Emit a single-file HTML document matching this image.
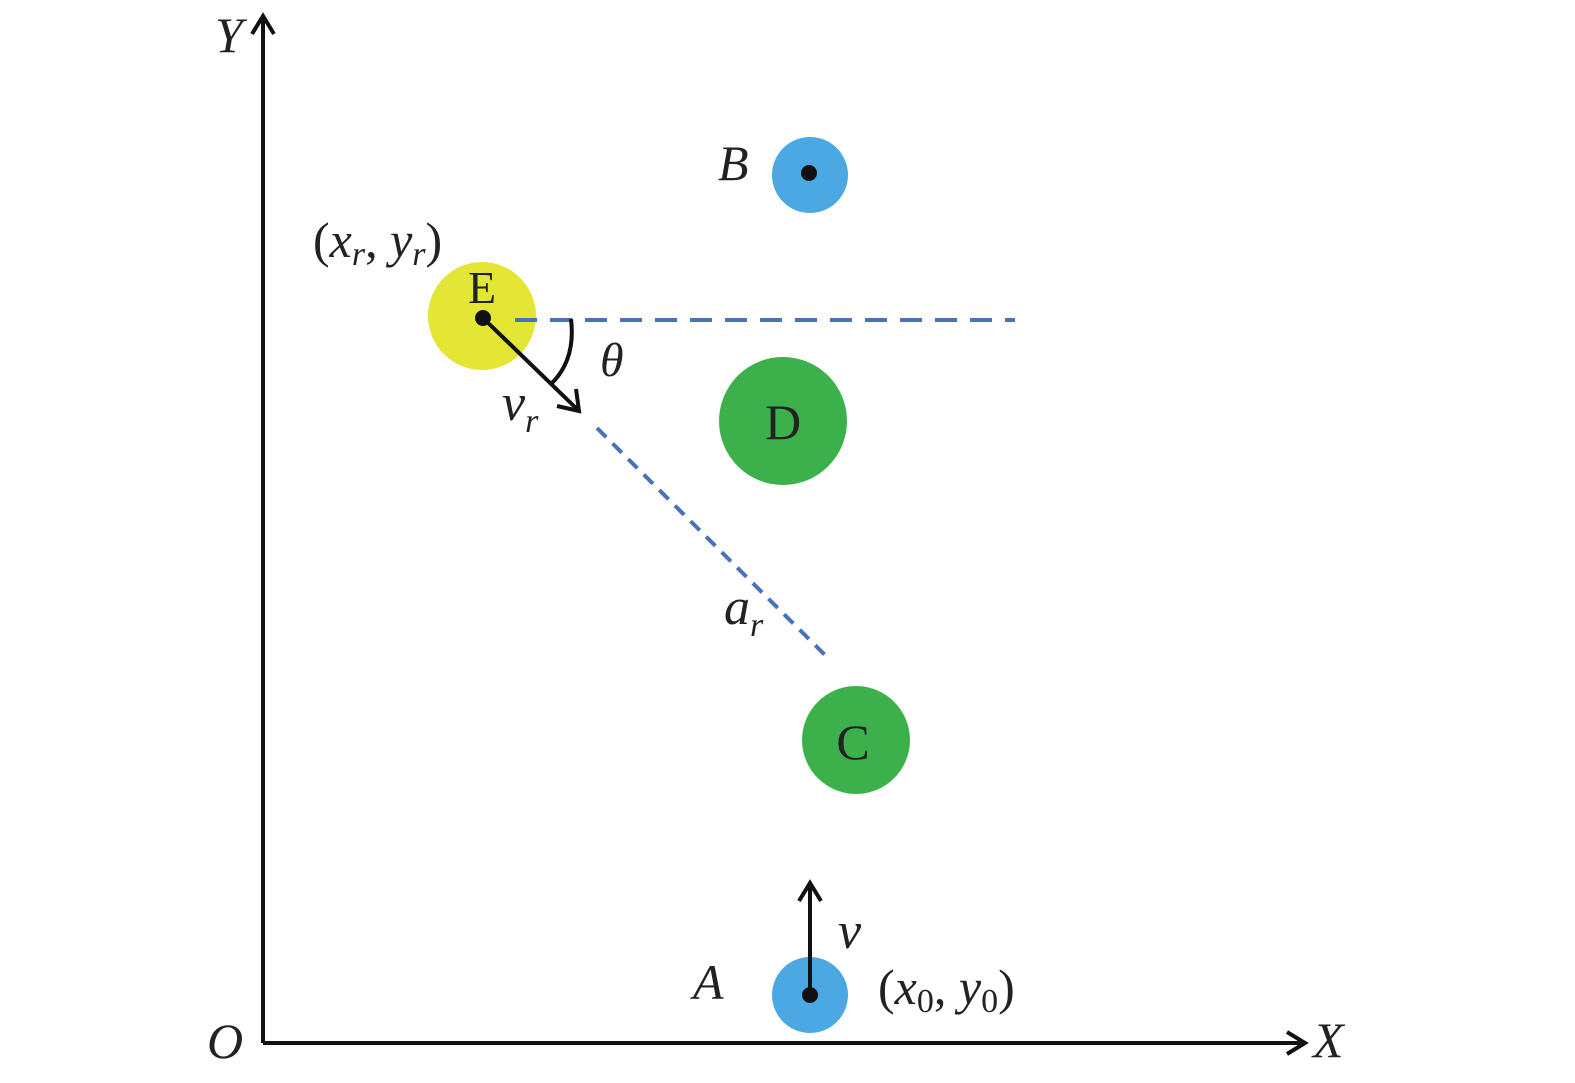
<!DOCTYPE html>
<html><head><style>html,body{margin:0;padding:0;background:#fff;}svg{display:block}
text{font-family:"Liberation Serif","Times New Roman",serif;fill:#222;}
.i{font-style:italic;}</style></head><body>
<svg width="1575" height="1083" viewBox="0 0 1575 1083">
<line x1="263" y1="1043" x2="263" y2="18" stroke="#111" stroke-width="4"/>
<line x1="263" y1="1043" x2="1303" y2="1043" stroke="#111" stroke-width="4"/>
<polyline points="252,34 263,16 274,34" fill="none" stroke="#111" stroke-width="4"/>
<polyline points="1287,1032 1305,1043 1287,1054" fill="none" stroke="#111" stroke-width="4"/>
<text x="215" y="52" font-size="50" class="i">Y</text>
<text x="207" y="1058" font-size="50" class="i">O</text>
<text x="1313" y="1057" font-size="50" class="i">X</text>
<circle cx="810" cy="175" r="38" fill="#4ba8e2"/>
<circle cx="809" cy="173" r="8" fill="#111"/>
<text x="718" y="180" font-size="50" class="i">B</text>
<circle cx="482" cy="316" r="54" fill="#e4e635"/>
<line x1="515" y1="320" x2="1015" y2="320" stroke="#4a72b8" stroke-width="4" stroke-dasharray="22,13"/>
<line x1="597" y1="428" x2="830" y2="660" stroke="#4a72b8" stroke-width="4" stroke-dasharray="13,9"/>
<text x="482" y="303" font-size="46" text-anchor="middle">E</text>
<path d="M571,319 Q576,360 551,384" fill="none" stroke="#111" stroke-width="4"/>
<line x1="483" y1="318" x2="578" y2="410" stroke="#111" stroke-width="4"/>
<polyline points="557,406 579,411 576,389" fill="none" stroke="#111" stroke-width="4"/>
<circle cx="483" cy="318" r="8" fill="#111"/>
<text x="313" y="257" font-size="50">(<tspan class="i">x</tspan><tspan class="i" font-size="34" dy="8">r</tspan><tspan dy="-8">, </tspan><tspan class="i">y</tspan><tspan class="i" font-size="34" dy="8">r</tspan><tspan dy="-8">)</tspan></text>
<text x="600" y="376" font-size="48" class="i">θ</text>
<text x="502" y="420" font-size="52" class="i">v<tspan font-size="34" dy="12">r</tspan></text>
<circle cx="783" cy="421" r="64" fill="#3cb04a"/>
<text x="783" y="439" font-size="50" text-anchor="middle">D</text>
<text x="724" y="624" font-size="52" class="i">a<tspan font-size="34" dy="12">r</tspan></text>
<circle cx="856" cy="740" r="54" fill="#3cb04a"/>
<text x="853" y="759" font-size="50" text-anchor="middle">C</text>
<circle cx="810" cy="995" r="38" fill="#4ba8e2"/>
<line x1="810" y1="995" x2="810" y2="884" stroke="#111" stroke-width="4"/>
<polyline points="799,901 810,883 821,901" fill="none" stroke="#111" stroke-width="4"/>
<circle cx="810" cy="995" r="8" fill="#111"/>
<text x="838" y="948" font-size="52" class="i">v</text>
<text x="693" y="999" font-size="50" class="i">A</text>
<text x="878" y="1004" font-size="50">(<tspan class="i">x</tspan><tspan font-size="34" dy="8">0</tspan><tspan dy="-8">, </tspan><tspan class="i">y</tspan><tspan font-size="34" dy="8">0</tspan><tspan dy="-8">)</tspan></text>
</svg>
</body></html>
